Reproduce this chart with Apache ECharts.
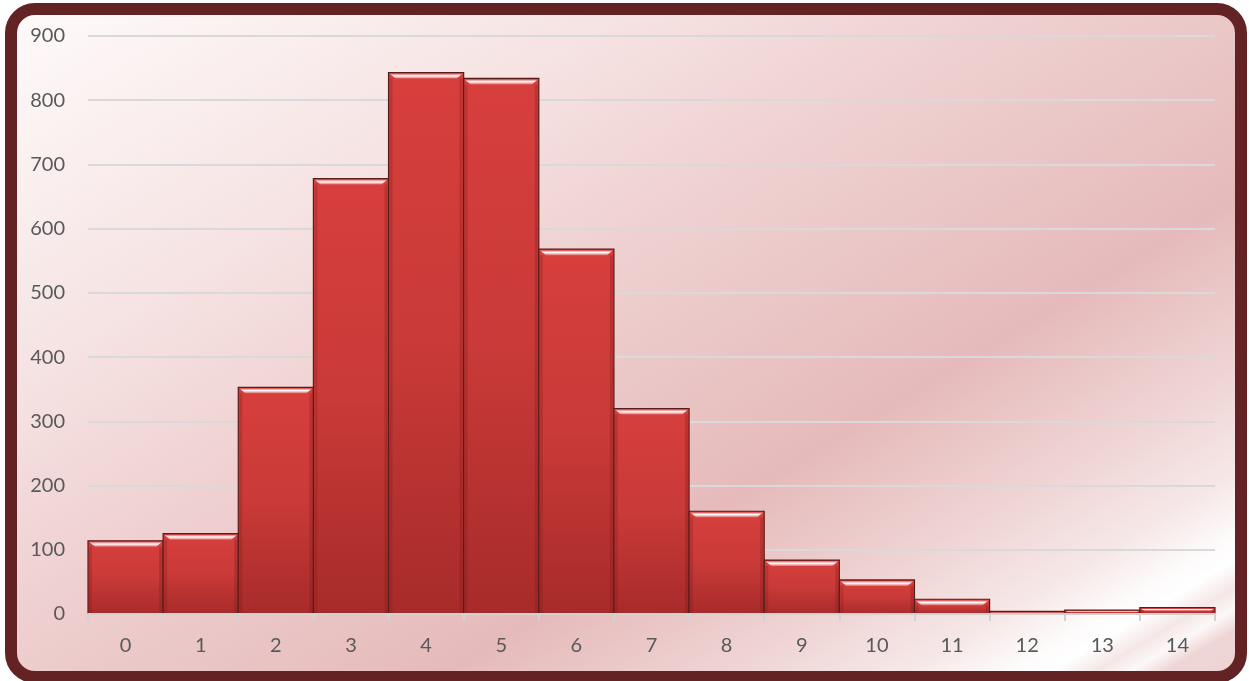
<!DOCTYPE html>
<html>
<head>
<meta charset="utf-8">
<script src="https://cdn.jsdelivr.net/npm/echarts@6/dist/echarts.min.js"></script>
<style>
    html, body{
        margin: 0;
        padding: 0;
        width: 1249px;
        height: 681px;
        overflow: hidden;
        background: #ffffff;
    }
    .frame{
        position: absolute;
        left: 5px;
        top: 3px;
        width: 1218px;
        height: 656px;
        border: 12px solid #632223;
        border-radius: 30px;
        background: linear-gradient(149deg, #fefafa 0%, #f6e3e3 26%, #efd0d0 43%, #ebc8c8 52%, #e6baba 66%, #f0d6d6 79%, #f6e8e8 86%, #fdfafa 90%, #ffffff 92%, #f5e6e6 94%, #fdf8f8 95.5%, #efd6d6 97%, #eed3d3 100%);
    }
    #chart{
        position: absolute;
        left: 0;
        top: 0;
        width: 1249px;
        height: 681px;
    }
</style>
</head>
<body>
<div class="frame"></div>
<div id="chart"></div>
<script>
// histogram bins and counts
const categories = ['0', '1', '2', '3', '4', '5', '6', '7', '8', '9', '10', '11', '12', '13', '14']
const counts = [114, 125, 353, 678, 843, 834, 568, 320, 160, 84, 53, 23, 4, 6, 10]
const yTicks = [0, 100, 200, 300, 400, 500, 600, 700, 800, 900]

let chart = echarts.init(document.getElementById('chart'))

// bevelled bar, drawn like the office "3D" bar style
function renderBar(params, api){
    let idx = api.value(0)
    let val = api.value(1)
    let top = api.coord([idx, val])
    let base = api.coord([idx, 0])
    let w = api.size([1, 0])[0]
    let x0 = top[0] - w / 2
    let y0 = top[1]
    let h = base[1] - top[1]
    let bev = Math.min(6, h / 2)
    return {
        type: 'group',
        children: [
            {
                type: 'rect',
                shape: {x: x0, y: y0, width: w, height: h},
                style: {
                    fill: new echarts.graphic.LinearGradient(0, 0, 0, 1, [
                        {offset: 0, color: '#d73f3d'},
                        {offset: 0.5, color: '#c93a38'},
                        {offset: 1, color: '#a72b2a'}
                    ]),
                    stroke: '#5a1b1b',
                    lineWidth: 1.2
                }
            },
            {
                // left/right darker rims
                type: 'rect',
                shape: {x: x0 + 1, y: y0 + bev, width: 3, height: Math.max(0, h - bev - 1)},
                style: {fill: 'rgba(120,25,25,0.25)'}
            },
            {
                type: 'rect',
                shape: {x: x0 + w - 4, y: y0 + bev, width: 3, height: Math.max(0, h - bev - 1)},
                style: {fill: 'rgba(120,25,25,0.3)'}
            },
            {
                // top bevel highlight
                type: 'polygon',
                shape: {points: [[x0 + 1, y0 + 1], [x0 + w - 1, y0 + 1], [x0 + w - 1 - bev, y0 + bev], [x0 + 1 + bev, y0 + bev]]},
                style: {
                    fill: new echarts.graphic.LinearGradient(0, 0, 0, 1, [
                        {offset: 0, color: '#e45a58'},
                        {offset: 0.45, color: '#ffffff'},
                        {offset: 1, color: '#e36a68'}
                    ])
                }
            }
        ]
    }
}

let option = {
    animation: false,
    backgroundColor: 'transparent',
    textStyle: {
        fontFamily: 'Lato'
    },
    grid: {
        left: 88,
        right: 34,
        top: 36,
        bottom: 67
    },
    xAxis: {
        type: 'category',
        data: categories,
        boundaryGap: true,
        axisLine: {
            show: true,
            lineStyle: {color: '#d2d2d2', width: 2}
        },
        axisTick: {
            show: true,
            alignWithLabel: false,
            length: 7,
            lineStyle: {color: '#d2d2d2', width: 2}
        },
        axisLabel: {
            color: '#595959',
            fontSize: 20,
            margin: 22
        },
        z: 10
    },
    yAxis: {
        type: 'value',
        min: yTicks[0],
        max: yTicks[yTicks.length - 1],
        interval: 100,
        axisLine: {show: false},
        axisTick: {show: false},
        axisLabel: {
            color: '#595959',
            fontSize: 20,
            margin: 23
        },
        splitLine: {
            lineStyle: {color: '#d9d9d9', width: 2}
        }
    },
    series: [
        {
            type: 'custom',
            renderItem: renderBar,
            encode: {x: 0, y: 1},
            data: counts.map((v, i) => [i, v])
        }
    ]
}
chart.setOption(option)
</script>
</body>
</html>
